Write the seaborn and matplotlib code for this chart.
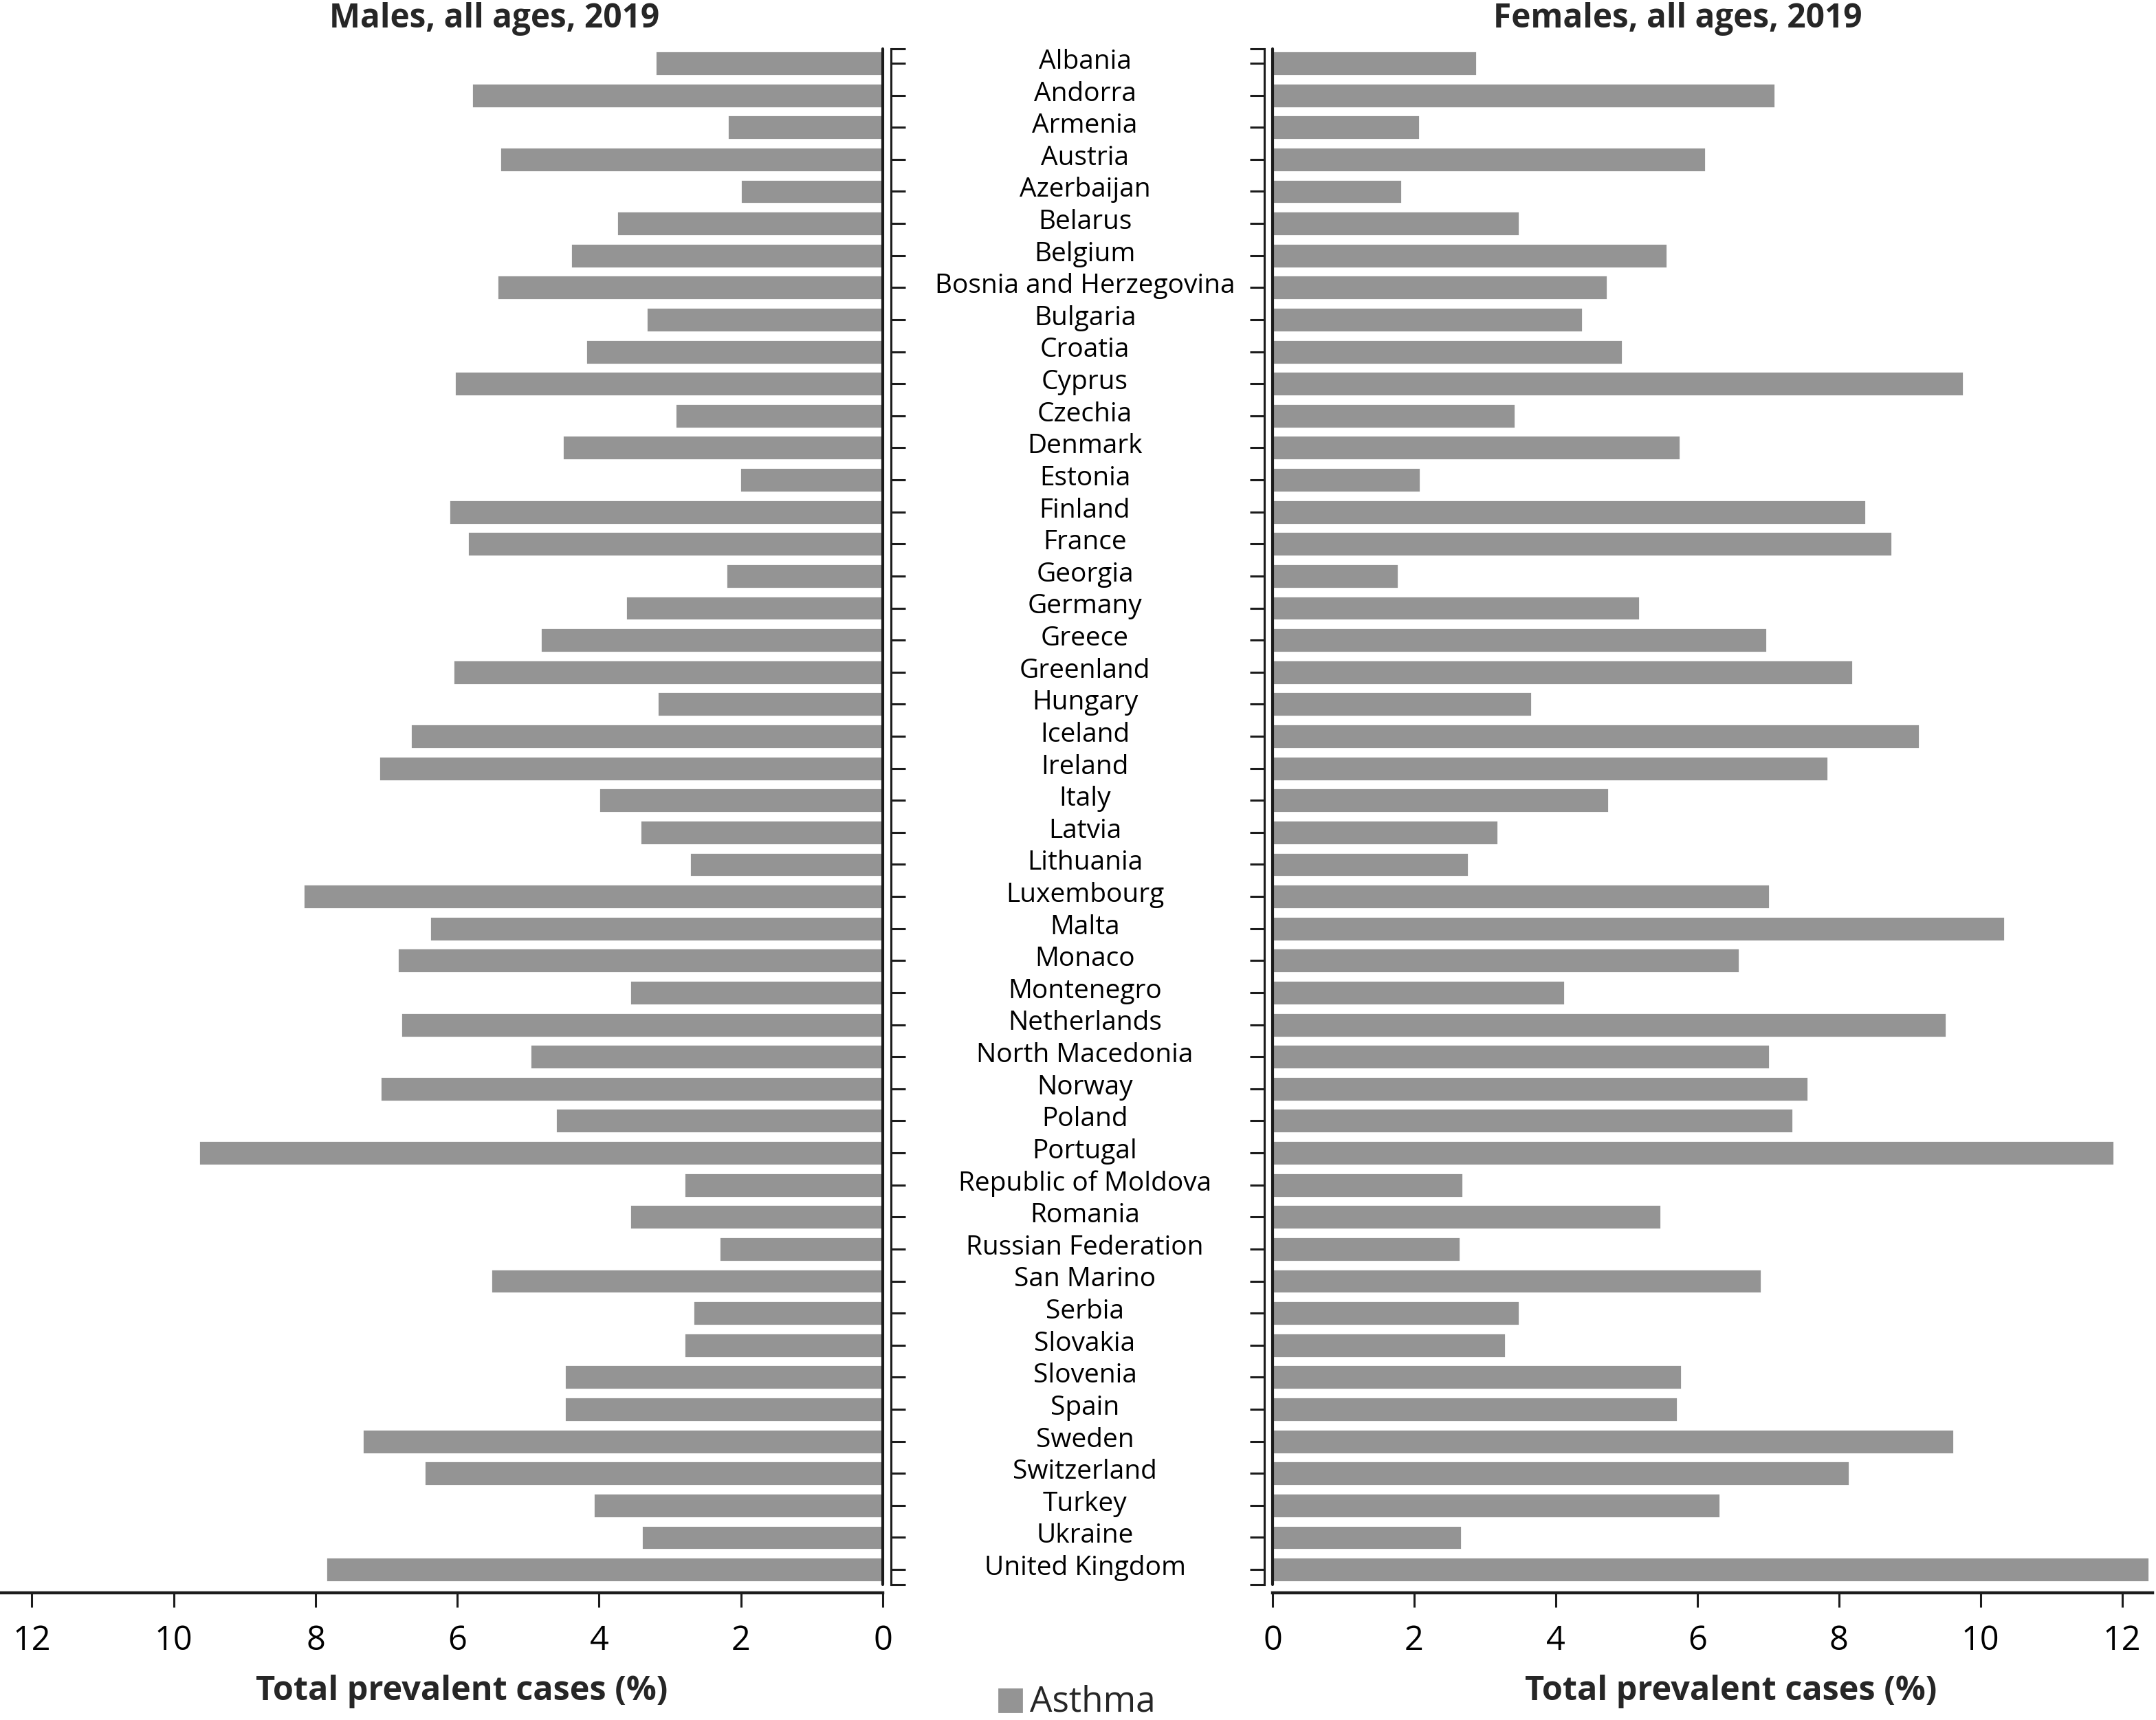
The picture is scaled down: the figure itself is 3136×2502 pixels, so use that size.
import numpy as np
import pandas as pd
import seaborn as sns
import matplotlib
matplotlib.use("Agg")
import matplotlib.pyplot as plt
from matplotlib.patches import Rectangle
from matplotlib.transforms import blended_transform_factory

countries = [
    "Albania", "Andorra", "Armenia", "Austria", "Azerbaijan", "Belarus",
    "Belgium", "Bosnia and Herzegovina", "Bulgaria", "Croatia", "Cyprus",
    "Czechia", "Denmark", "Estonia", "Finland", "France", "Georgia",
    "Germany", "Greece", "Greenland", "Hungary", "Iceland", "Ireland",
    "Italy", "Latvia", "Lithuania", "Luxembourg", "Malta", "Monaco",
    "Montenegro", "Netherlands", "North Macedonia", "Norway", "Poland",
    "Portugal", "Republic of Moldova", "Romania", "Russian Federation",
    "San Marino", "Serbia", "Slovakia", "Slovenia", "Spain", "Sweden",
    "Switzerland", "Turkey", "Ukraine", "United Kingdom",
]

# total prevalent cases (%)
males = [
    3.21, 5.80, 2.19, 5.40, 2.01, 3.75, 4.40, 5.44, 3.34, 4.19, 6.04,
    2.93, 4.52, 2.02, 6.12, 5.86, 2.21, 3.63, 4.83, 6.06, 3.18, 6.66,
    7.11, 4.00, 3.42, 2.72, 8.17, 6.39, 6.85, 3.57, 6.80, 4.97, 7.09,
    4.62, 9.65, 2.80, 3.57, 2.31, 5.53, 2.68, 2.80, 4.49, 4.49, 7.34,
    6.47, 4.08, 3.40, 7.85,
]
females = [
    2.88, 7.10, 2.08, 6.12, 1.83, 3.49, 5.57, 4.73, 4.38, 4.94, 9.76,
    3.43, 5.76, 2.09, 8.38, 8.75, 1.78, 5.19, 6.98, 8.20, 3.66, 9.14,
    7.85, 4.75, 3.19, 2.77, 7.02, 10.34, 6.59, 4.13, 9.52, 7.02, 7.56,
    7.35, 11.89, 2.69, 5.49, 2.65, 6.90, 3.49, 3.29, 5.78, 5.72, 9.62,
    8.15, 6.32, 2.67, 12.38,
]
xticks = [0, 2, 4, 6, 8, 10, 12]

df = pd.DataFrame({"country": countries, "Males": males, "Females": females})

BAR = "#949494"
INK = "#1c1c1c"
W, H, DPI = 3136, 2502, 200

sns.set_theme(style="white")
plt.rcParams["font.family"] = ["Open Sans", "DejaVu Sans"]

fig = plt.figure(figsize=(W / DPI, H / DPI), dpi=DPI)
ax_m = fig.add_axes([0.0, 1 - 2305 / H, 1284 / W, (2305 - 71) / H])
ax_f = fig.add_axes([1851 / W, 1 - 2305 / H, (3131 - 1851) / W, (2305 - 71) / H])

n = len(countries)
ylim = (n - 1 + 0.47, -0.45)
px2pt = 72 / DPI

for ax, col, side in [(ax_m, "Males", "right"), (ax_f, "Females", "left")]:
    sns.barplot(data=df, x=col, y="country", orient="h", color=BAR,
                saturation=1, width=0.77, ax=ax)
    ax.set_ylim(*ylim)
    ax.set_xlabel("")
    ax.set_ylabel("")
    ax.set_yticks(range(n))
    ax.set_yticklabels([""] * n)
    ax.set_yticks(list(ylim), minor=True)
    ax.set_xticks(xticks)
    ax.set_xticklabels([str(t) for t in xticks])
    ax.axvline(0, color=INK, lw=1.5, clip_on=False, zorder=5)

    for s in ax.spines.values():
        s.set_visible(False)
    ax.spines["bottom"].set_visible(True)
    ax.spines["bottom"].set_linewidth(1.6)
    ax.spines["bottom"].set_color(INK)
    ax.spines["bottom"].set_position(("outward", 12 * px2pt))
    ax.spines[side].set_visible(True)
    ax.spines[side].set_linewidth(1.1)
    ax.spines[side].set_color(INK)
    ax.spines[side].set_position(("outward", 12 * px2pt))

    ax.tick_params(axis="x", direction="out", length=21 * px2pt, width=1.1,
                   color=INK, pad=9, bottom=True, labelsize=17.5,
                   labelcolor="black")
    ax.tick_params(axis="y", which="both", direction="out", length=21 * px2pt,
                   width=1.1, color=INK, left=(side == "left"),
                   right=(side == "right"), labelleft=False, labelright=False)
    ax.set_facecolor("none")

ax_m.set_xlim(12.45, 0)
ax_f.set_xlim(0, 12.43)

# country names centred between the two panels
tr = blended_transform_factory(fig.transFigure, ax_m.transData)
for i, name in enumerate(countries):
    fig.text(1578 / W, i + 0.17, name, transform=tr, ha="center",
             va="baseline", fontsize=14, color="black")

fig.text(719 / W, 1 - 40 / H, "Males, all ages, 2019", ha="center",
         va="baseline", fontsize=17.2, fontweight="bold")
fig.text(2440 / W, 1 - 40 / H, "Females, all ages, 2019", ha="center",
         va="baseline", fontsize=17.2, fontweight="bold")
fig.text(672 / W, 1 - 2473 / H, "Total prevalent cases (%)", ha="center",
         va="baseline", fontsize=17.5, fontweight="bold")
fig.text(2518 / W, 1 - 2473 / H, "Total prevalent cases (%)", ha="center",
         va="baseline", fontsize=17.5, fontweight="bold")

# legend
fig.patches.append(Rectangle((1453 / W, 12 / H), 33 / W, 33 / H, color=BAR,
                             transform=fig.transFigure, figure=fig))
fig.text(1498 / W, 1 / H, "Asthma", ha="left", va="bottom", fontsize=18.5)

fig.savefig("out.png", dpi=DPI)
